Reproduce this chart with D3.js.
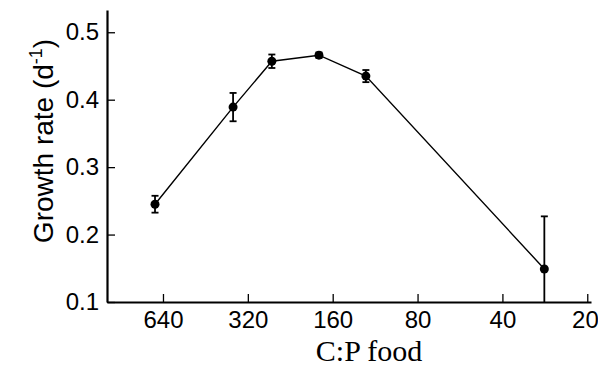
<!DOCTYPE html>
<html>
<head>
<meta charset="utf-8">
<script src="https://cdn.jsdelivr.net/npm/d3@7"></script>
<style>
  body { margin: 0; background: #fff; }
  .tick text { font-family: "Liberation Sans", Arial, sans-serif; }
</style>
</head>
<body>
<div id="chart"></div>
<script>
// data
var cpFood = [683, 361, 263, 179, 122, 28.4];
var growthRate = [0.245, 0.389, 0.457, 0.466, 0.435, 0.149];
var growthErr = [0.0125, 0.021, 0.01, 0.004, 0.009, 0.078];
var xTickValues = [640, 320, 160, 80, 40, 20];
var yTickValues = [0.1, 0.2, 0.3, 0.4, 0.5];

var svgWidth = 598, svgHeight = 368;
var axisLeft = 107, axisRight = 591, axisTop = 10, axisBottom = 302;

var svg = d3.select("#chart").append("svg")
  .attr("width", svgWidth)
  .attr("height", svgHeight);

var points = cpFood.map(function(c, i) {
  return { x: c, y: growthRate[i], e: growthErr[i] };
});

var xScale = d3.scaleLog()
  .domain([1011, 19.4])
  .range([axisLeft, axisRight]);

var yScale = d3.scaleLinear()
  .domain([0.1, 0.533])
  .range([axisBottom, axisTop]);

// x axis, ticks pointing up into the plot
var xAxis = svg.append("g")
  .attr("transform", `translate(0, ${axisBottom})`)
  .call(d3.axisBottom(xScale).tickValues(xTickValues).tickFormat(d3.format("d"))
    .tickSizeInner(-8).tickSizeOuter(0).tickPadding(9));
xAxis.select(".domain").attr("stroke-width", 2.2);
xAxis.selectAll(".tick line").attr("stroke-width", 1.3);
xAxis.selectAll(".tick text").style("font-size", "24px").attr("fill", "#000");
// last label sits against the right edge
xAxis.selectAll(".tick text").filter(d => d === 20)
  .attr("text-anchor", "end").attr("x", 11);

// y axis
var yAxis = svg.append("g")
  .attr("transform", `translate(${axisLeft}, 0)`)
  .call(d3.axisLeft(yScale).tickValues(yTickValues).tickFormat(d3.format(".1f"))
    .tickSizeInner(-8).tickSizeOuter(0).tickPadding(8));
yAxis.select(".domain").attr("stroke-width", 2.2);
yAxis.selectAll(".tick line").attr("stroke-width", 1.3);
yAxis.selectAll(".tick text").style("font-size", "24px").attr("fill", "#000");

// connecting line
var line = d3.line()
  .x(d => xScale(d.x))
  .y(d => yScale(d.y));

svg.append("path")
  .datum(points)
  .attr("d", line)
  .attr("fill", "none")
  .attr("stroke", "#000")
  .attr("stroke-width", 1.4);

// error bars
var yMin = yScale.domain()[0];
var errG = svg.append("g").attr("stroke", "#000").attr("stroke-width", 1.8);
points.forEach(function(d) {
  var cx = xScale(d.x);
  var top = yScale(d.y + d.e);
  var bot = yScale(Math.max(d.y - d.e, yMin));
  errG.append("line").attr("x1", cx).attr("x2", cx).attr("y1", top).attr("y2", bot);
  errG.append("line").attr("x1", cx - 3.5).attr("x2", cx + 3.5).attr("y1", top).attr("y2", top);
  if (d.y - d.e > yMin) {
    errG.append("line").attr("x1", cx - 3.5).attr("x2", cx + 3.5).attr("y1", bot).attr("y2", bot);
  }
});

// markers
svg.selectAll("circle.pt")
  .data(points)
  .enter()
  .append("circle")
  .attr("class", "pt")
  .attr("cx", d => xScale(d.x))
  .attr("cy", d => yScale(d.y))
  .attr("r", 4.5)
  .attr("fill", "#000");

// axis titles
svg.append("text")
  .attr("x", 369)
  .attr("y", 361)
  .attr("text-anchor", "middle")
  .style("font-family", "'Liberation Serif', 'Times New Roman', serif")
  .style("font-size", "30px")
  .text("C:P food");

var yTitle = svg.append("text")
  .attr("transform", "translate(53, 141) rotate(-90)")
  .attr("text-anchor", "middle")
  .style("font-family", "'Liberation Sans', Arial, sans-serif")
  .style("font-size", "28px");
yTitle.append("tspan").text("Growth rate (d");
yTitle.append("tspan").attr("dy", -11).style("font-size", "18px").text("-1");
yTitle.append("tspan").attr("dy", 11).text(")");
</script>
</body>
</html>
